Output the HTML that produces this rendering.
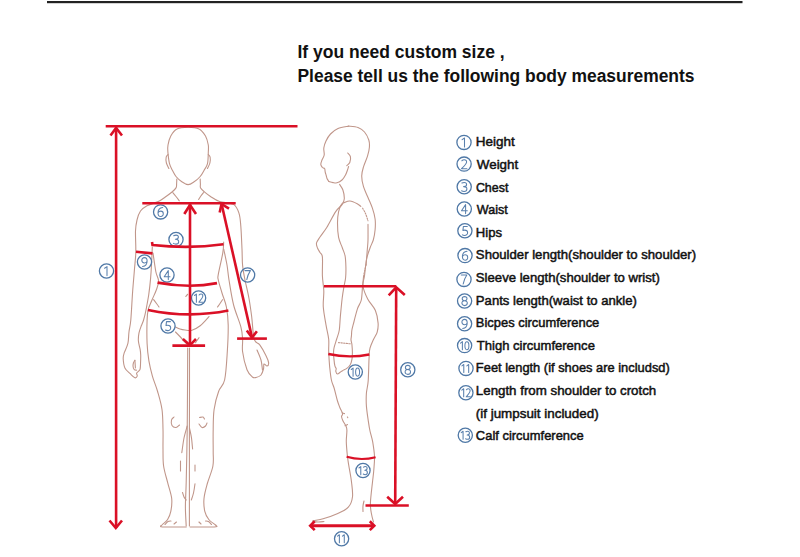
<!DOCTYPE html>
<html><head><meta charset="utf-8">
<style>
html,body{margin:0;padding:0;background:#fff;width:800px;height:557px;overflow:hidden}
svg{position:absolute;left:0;top:0}
.fig{fill:none;stroke:#c0968a;stroke-width:1.1;stroke-linecap:round;stroke-linejoin:round}
.red{fill:none;stroke:#da1026;stroke-width:2.6;stroke-linecap:butt;stroke-linejoin:miter}
.cir{fill:none;stroke:#4f78a6;stroke-width:1.3}
.num{font-family:"Liberation Sans",sans-serif;fill:#6f90b8;font-size:12.5px;text-anchor:middle}
.hd{font-family:"Liberation Sans",sans-serif;font-weight:bold;font-size:17.5px;fill:#111}
.li{font-family:"Liberation Sans",sans-serif;font-size:13.5px;fill:#111;stroke:#111;stroke-width:0.5}
.dig{fill:none;stroke:#5a80ad;stroke-width:1.05;stroke-linecap:round;stroke-linejoin:round;vector-effect:non-scaling-stroke}

</style></head><body>
<svg width="800" height="557" viewBox="0 0 800 557">
<rect x="47" y="1" width="695.5" height="2.2" fill="#222"/>
<text class="hd" x="297.5" y="58.1">If you need custom size ,</text>
<text class="hd" x="297.5" y="81.5" textLength="397" lengthAdjust="spacingAndGlyphs">Please tell us the following body measurements</text>
<text class="li" transform="translate(475.82,146.3) scale(0.9986,1)">Height</text>
<text class="li" transform="translate(476.80,168.9) scale(0.9930,1)">Weight</text>
<text class="li" transform="translate(475.90,191.5) scale(0.9200,1)">Chest</text>
<text class="li" transform="translate(476.80,214.1) scale(0.9290,1)">Waist</text>
<text class="li" transform="translate(475.85,236.7) scale(0.9711,1)">Hips</text>
<text class="li" transform="translate(475.85,259.3) scale(0.9754,1)">Shoulder length(shoulder to shoulder)</text>
<text class="li" transform="translate(475.85,281.9) scale(0.9741,1)">Sleeve length(shoulder to wrist)</text>
<text class="li" transform="translate(475.85,304.5) scale(0.9729,1)">Pants length(waist to ankle)</text>
<text class="li" transform="translate(475.86,327.1) scale(0.9570,1)">Bicpes circumference</text>
<text class="li" transform="translate(476.80,349.7) scale(0.9662,1)">Thigh circumference</text>
<text class="li" transform="translate(475.87,372.3) scale(0.9537,1)">Feet length (if shoes are includsd)</text>
<text class="li" transform="translate(475.84,394.9) scale(0.9863,1)">Length from shoulder to crotch</text>
<text class="li" transform="translate(475.83,417.5) scale(0.9928,1)">(if jumpsuit included)</text>
<text class="li" transform="translate(475.86,440.1) scale(0.9589,1)">Calf circumference</text>
<g class="fig">
<path d="M188.1,127.3 C191.8,127.3 196.1,127.5 199.0,129.0 C201.9,130.4 203.9,133.3 205.5,136.0 C207.1,138.7 207.8,142.3 208.3,145.0 C208.8,147.7 208.4,149.2 208.3,152.3 C208.2,155.4 208.2,160.6 207.5,163.6 C206.8,166.6 205.2,168.3 204.0,170.5 C202.8,172.7 201.8,174.7 200.2,176.5 C198.6,178.3 196.5,180.2 194.5,181.5 C192.5,182.8 190.3,184.6 188.1,184.6 C185.9,184.6 183.5,182.8 181.5,181.5 C179.5,180.2 177.5,178.3 176.0,176.5 C174.5,174.7 173.6,172.7 172.5,170.5 C171.4,168.3 170.3,166.6 169.5,163.6 C168.7,160.6 168.2,155.4 167.9,152.3 C167.7,149.2 167.5,147.7 168.0,145.0 C168.5,142.3 169.3,138.7 170.8,136.0 C172.3,133.3 174.1,130.4 177.0,129.0 C179.9,127.5 184.4,127.3 188.1,127.3Z"/>
<path d="M168.0,154.5 C167.7,154.9 166.5,155.6 166.2,157.0 C165.9,158.4 165.9,161.1 166.4,163.0 C166.9,164.9 168.5,167.6 168.9,168.5"/>
<path d="M208.3,154.5 C208.6,154.9 209.8,155.6 210.1,157.0 C210.4,158.4 210.3,161.1 209.9,163.0 C209.5,164.9 207.8,167.6 207.4,168.5"/>
<path d="M176.8,179.0 C176.8,179.8 176.7,182.5 176.6,184.0 C176.5,185.5 176.8,186.6 176.0,187.9 C175.2,189.2 173.7,190.6 172.0,192.0 C170.3,193.4 168.3,194.9 166.0,196.5 C163.7,198.1 161.4,200.0 158.2,201.6 C155.0,203.2 149.9,204.2 147.0,205.8 C144.1,207.4 142.2,208.6 140.5,211.0 C138.8,213.4 137.8,216.7 137.0,220.0 C136.2,223.3 135.7,225.6 135.5,231.0 C135.3,236.4 136.0,246.0 135.8,252.5 C135.6,259.0 134.9,263.4 134.4,270.0 C133.9,276.6 133.2,283.7 132.6,292.0 C132.0,300.3 131.4,313.4 130.8,320.0 C130.2,326.6 129.5,327.8 129.0,331.7 C128.5,335.6 128.7,339.9 127.9,343.4 C127.1,346.9 125.1,350.2 124.3,352.7 C123.5,355.2 123.1,356.1 123.2,358.6 C123.3,361.1 123.7,365.4 124.9,367.9 C126.1,370.4 128.5,372.0 130.2,373.7 C131.9,375.4 133.7,377.4 134.9,377.8 C136.1,378.2 136.9,376.9 137.2,376.1 C137.5,375.3 136.4,374.0 136.6,373.2 C136.8,372.4 137.8,372.1 138.4,371.4 C139.0,370.7 139.8,370.3 140.1,369.1 C140.4,367.9 140.4,366.8 140.5,364.4 C140.6,362.0 140.8,357.5 140.7,355.0 C140.6,352.5 140.5,351.5 140.1,349.2 C139.7,346.9 138.6,343.7 138.4,341.0 C138.2,338.3 138.5,335.4 139.0,332.9 C139.5,330.4 140.5,327.9 141.3,325.8 C142.1,323.7 142.8,322.6 143.6,320.0 C144.4,317.4 145.2,314.2 146.0,310.0 C146.8,305.8 147.9,300.1 148.7,295.0 C149.4,289.9 150.1,284.1 150.5,279.4 C150.9,274.7 151.1,272.2 151.4,266.8 C151.7,261.4 152.2,250.3 152.3,247.0"/>
<path d="M134.9,360.3 C134.7,360.8 133.7,361.9 133.4,363.0 C133.1,364.1 132.9,365.6 133.1,366.7 C133.2,367.8 133.7,369.0 134.3,369.6 C134.9,370.2 136.2,370.1 136.6,370.2"/>
<path d="M134.9,360.3 C135.0,361.6 135.3,366.6 135.4,367.9"/>
<path d="M200.2,179.0 C200.2,179.8 200.3,182.5 200.4,184.0 C200.5,185.5 199.9,186.7 200.6,188.0 C201.3,189.3 202.8,190.6 204.5,192.0 C206.2,193.4 208.0,194.9 210.5,196.5 C213.0,198.1 215.8,200.3 219.6,201.6 C223.4,202.9 230.4,202.4 233.6,204.4 C236.8,206.4 237.8,209.7 239.0,213.3 C240.2,216.9 240.3,220.1 240.8,226.0 C241.3,231.9 241.7,242.4 242.0,249.0 C242.3,255.6 242.1,260.2 242.6,265.4 C243.1,270.6 243.9,274.6 245.0,280.0 C246.1,285.4 247.8,292.0 248.9,298.0 C250.0,304.0 250.7,309.1 251.6,316.0 C252.5,322.9 252.9,334.4 254.2,339.2 C255.5,344.0 257.7,341.9 259.6,344.6 C261.6,347.3 264.4,352.4 265.9,355.4 C267.4,358.4 268.4,360.8 268.6,362.6 C268.8,364.4 267.8,365.8 267.0,366.0 C266.2,366.2 264.6,363.5 264.0,364.0 C263.4,364.5 264.0,367.2 263.5,369.0 C263.0,370.8 262.2,373.6 261.0,375.0 C259.8,376.4 257.4,377.2 256.0,377.5 C254.6,377.8 253.9,378.3 252.4,377.0 C250.9,375.7 248.6,374.0 247.0,369.8 C245.4,365.6 243.3,356.9 242.6,351.8 C241.9,346.7 242.9,343.2 242.6,339.0 C242.3,334.8 242.3,332.4 240.8,326.7 C239.3,321.0 235.6,312.8 233.6,305.0 C231.6,297.2 230.1,286.7 229.0,280.0 C227.9,273.3 227.9,270.2 227.0,265.0 C226.1,259.8 224.2,251.7 223.7,249.0"/>
<path d="M172.8,192.7 C173.3,193.3 174.9,195.2 176.0,196.5 C177.1,197.8 178.7,200.1 179.2,200.8"/>
<path d="M203.5,192.7 C203.0,193.3 201.3,195.4 200.5,196.5 C199.7,197.6 198.9,199.0 198.6,199.5"/>
<path d="M153.0,253.0 C153.5,256.2 155.0,267.3 155.9,272.0 C156.8,276.7 158.5,278.0 158.6,281.0 C158.7,284.0 157.4,286.8 156.3,290.0 C155.2,293.2 153.3,296.7 152.0,300.0 C150.7,303.3 149.0,306.3 148.2,309.6 C147.4,312.9 147.3,314.4 147.1,320.0 C146.9,325.6 146.8,336.6 147.1,343.4 C147.4,350.2 148.0,355.4 148.9,360.9 C149.8,366.3 151.0,371.0 152.4,376.1 C153.8,381.2 156.0,385.9 157.6,391.5 C159.2,397.1 161.1,403.2 162.0,409.5 C162.9,415.8 162.8,422.6 163.0,429.2 C163.2,435.8 162.9,442.9 163.0,449.0 C163.1,455.1 162.8,460.4 163.6,466.0 C164.4,471.6 166.2,476.9 167.6,482.3 C168.9,487.7 171.2,493.6 171.7,498.5 C172.2,503.4 171.5,507.9 170.8,511.4 C170.1,514.9 169.0,517.3 167.6,519.5 C166.2,521.7 163.6,523.3 162.5,524.5 C161.4,525.7 159.4,526.3 161.2,526.7 C162.9,527.1 168.8,527.0 173.0,527.0 C177.2,527.0 184.0,527.0 186.2,527.0"/>
<path d="M223.7,242.0 C223.5,243.8 223.7,247.4 222.8,252.8 C221.9,258.2 219.1,269.9 218.3,274.4 C217.6,278.9 217.7,276.9 218.3,280.0 C218.9,283.1 220.7,288.5 222.0,293.0 C223.3,297.5 225.4,301.7 226.4,307.0 C227.4,312.3 228.0,317.4 228.2,324.9 C228.3,332.4 227.9,342.6 227.3,351.8 C226.7,361.0 226.1,373.4 224.6,380.0 C223.1,386.6 220.3,386.6 218.6,391.5 C216.8,396.4 215.0,403.2 214.1,409.5 C213.2,415.8 213.3,422.3 213.2,429.2 C213.0,436.1 213.2,444.7 213.2,450.8 C213.1,456.9 213.9,460.5 212.9,466.0 C211.9,471.5 208.7,478.6 207.2,484.0 C205.7,489.4 204.4,493.9 204.0,498.5 C203.6,503.1 204.0,507.9 204.8,511.4 C205.6,514.9 207.0,517.2 208.8,519.5 C210.6,521.8 214.3,523.8 215.5,525.0 C216.7,526.2 218.1,526.4 216.0,526.7 C213.9,527.0 207.3,527.0 203.0,527.0 C198.7,527.0 192.3,527.0 190.2,527.0"/>
<path d="M187.7,348.0 C187.7,355.0 187.6,376.2 187.5,390.0 C187.4,403.8 187.4,415.6 187.2,431.0 C187.0,446.4 186.5,469.7 186.2,482.3 C185.9,494.9 185.4,499.2 185.4,506.5 C185.4,513.8 186.1,522.8 186.2,526.0"/>
<path d="M189.5,348.0 C189.5,355.0 189.5,376.2 189.5,390.0 C189.5,403.8 189.4,415.7 189.4,431.0 C189.4,446.3 189.4,469.5 189.4,482.0 C189.4,494.5 189.4,498.7 189.4,506.0 C189.4,513.3 189.4,522.7 189.4,526.0"/>
<path d="M187.2,426.0 C186.7,428.0 184.9,433.6 184.0,438.0 C183.1,442.4 182.2,450.2 181.8,452.6"/>
<path d="M189.5,428.0 C189.8,429.7 191.0,434.5 191.5,438.0 C192.0,441.5 192.4,447.2 192.6,449.0"/>
<path d="M174.0,417.0 C173.6,417.5 171.8,418.6 171.5,420.0 C171.2,421.4 171.2,424.2 172.0,425.5 C172.8,426.8 174.8,427.6 176.0,427.5 C177.2,427.4 178.9,425.4 179.5,425.0"/>
<path d="M199.5,417.5 C200.1,417.4 202.2,416.8 203.0,417.0 C203.8,417.2 204.2,418.7 204.5,419.0"/>
<path d="M199.0,424.0 C199.5,424.6 200.9,427.2 202.0,427.5 C203.1,427.8 204.7,426.8 205.5,426.0 C206.3,425.2 206.8,423.5 207.0,423.0"/>
<path d="M180.5,461.0 C180.5,462.7 180.5,469.3 180.5,471.0"/>
<path d="M195.0,465.0 C195.0,466.0 195.0,470.0 195.0,471.0"/>
<path d="M182.5,492.5 C182.8,493.2 183.4,495.8 184.0,497.0 C184.6,498.2 185.8,499.5 186.2,500.0"/>
<path d="M195.0,483.7 C194.8,485.2 194.1,490.3 193.5,493.0 C192.9,495.7 191.7,498.8 191.3,500.0"/>
<path d="M153.6,299.7 C154.1,300.3 155.6,302.3 156.5,303.5 C157.4,304.7 158.6,306.4 159.0,307.0"/>
<path d="M222.5,299.7 C222.1,300.3 220.8,302.3 220.0,303.5 C219.2,304.7 217.9,306.4 217.5,307.0"/>
<path d="M175.5,327.0 C176.2,327.3 178.4,328.5 180.0,329.0 C181.6,329.5 183.0,329.8 185.0,330.0 C187.0,330.2 189.5,330.9 192.0,330.2 C194.5,329.5 197.8,327.5 200.2,325.7 C202.6,323.9 205.0,320.9 206.5,319.4 C208.0,317.9 208.6,317.0 209.0,316.5"/>
<path d="M185.8,296.5 C186.1,296.1 187.3,294.7 187.6,294.3"/>
<path d="M175.5,332.0 C176.3,332.8 178.5,335.0 180.4,337.0 C182.3,339.0 185.6,342.8 186.7,344.0"/>
<path d="M199.0,337.7 C198.7,338.2 197.6,339.7 197.0,340.5 C196.4,341.3 195.8,342.3 195.5,342.7"/>
<path d="M165.0,524.5 C165.5,524.0 167.0,522.1 168.0,521.5 C169.0,520.9 170.5,521.1 171.0,521.0"/>
<path d="M174.0,524.0 C174.4,523.7 176.1,522.3 176.5,522.0"/>
<path d="M211.5,524.5 C211.0,524.0 209.5,522.1 208.5,521.5 C207.5,520.9 206.0,521.1 205.5,521.0"/>
<path d="M201.0,524.0 C200.7,523.7 199.3,522.3 199.0,522.0"/>
<path d="M257.0,350.0 C257.7,351.7 260.1,356.7 261.0,360.0 C261.9,363.3 262.2,368.3 262.5,370.0"/>
<path d="M348.6,126.1 C350.2,126.3 355.4,126.5 358.0,127.5 C360.6,128.5 362.7,129.9 364.5,132.0 C366.3,134.1 368.0,137.5 368.8,140.0 C369.6,142.5 369.6,144.5 369.4,147.2 C369.2,149.9 368.5,152.9 367.5,156.2 C366.5,159.5 364.5,163.6 363.5,166.9 C362.5,170.2 361.7,172.6 361.7,175.9 C361.7,179.2 362.4,183.1 363.5,186.7 C364.6,190.3 366.5,193.9 368.0,197.5 C369.5,201.1 371.2,204.6 372.4,208.2 C373.6,211.8 374.7,215.4 375.1,219.0 C375.6,222.6 375.4,226.3 375.1,229.8 C374.8,233.3 374.2,237.0 373.3,240.0 C372.4,243.0 371.1,244.8 370.0,248.0 C368.9,251.2 367.5,254.4 366.6,259.0 C365.7,263.6 365.1,271.1 364.5,275.6 C363.9,280.1 362.5,282.1 363.0,286.0 C363.5,289.9 365.6,294.9 367.7,299.0 C369.8,303.1 373.7,306.5 375.4,310.5 C377.1,314.5 377.8,319.5 378.1,323.1 C378.4,326.7 377.9,329.4 377.2,332.1 C376.4,334.8 374.8,336.5 373.6,339.2 C372.4,341.9 370.8,345.2 370.0,348.2 C369.2,351.2 369.4,351.8 369.1,357.2 C368.8,362.6 368.6,374.8 368.2,380.8 C367.8,386.8 366.7,389.1 366.4,393.3 C366.1,397.5 366.1,401.4 366.4,405.9 C366.7,410.4 367.6,416.1 368.2,420.3 C368.8,424.5 369.2,427.4 370.0,431.0 C370.8,434.6 371.9,437.6 372.7,441.8 C373.4,446.0 374.3,451.5 374.5,456.2 C374.7,460.9 374.1,465.7 373.8,470.0 C373.5,474.3 373.1,476.5 372.5,482.0 C371.9,487.5 370.6,497.8 370.4,503.0 C370.2,508.2 370.9,510.3 371.4,513.5 C371.9,516.7 373.1,520.6 373.5,522.0"/>
<path d="M348.6,126.1 C346.8,126.5 341.0,127.2 338.0,128.5 C335.0,129.8 332.5,131.9 330.5,134.0 C328.5,136.1 327.1,138.7 326.0,141.0 C324.9,143.3 324.1,145.7 323.8,148.0 C323.5,150.3 324.5,153.0 324.2,155.0 C323.9,157.0 322.6,158.4 322.0,160.0 C321.4,161.6 320.7,163.2 320.8,164.5 C320.9,165.8 321.9,166.8 322.5,167.5 C323.1,168.2 324.2,168.0 324.6,168.5 C325.0,169.0 324.9,169.8 325.0,170.5 C325.1,171.2 325.1,171.7 325.3,172.5 C325.5,173.3 325.9,174.5 326.2,175.5 C326.5,176.5 326.6,177.5 327.0,178.5 C327.4,179.5 328.6,181.0 328.9,181.5"/>
<path d="M328.9,181.5 C329.6,181.7 331.6,182.4 333.0,182.6 C334.4,182.8 335.5,183.2 337.0,182.8 C338.5,182.4 340.6,181.3 342.0,180.0 C343.4,178.7 344.6,176.7 345.5,175.0 C346.4,173.3 347.0,171.4 347.5,170.0 C348.0,168.6 348.4,167.1 348.6,166.5"/>
<path d="M347.7,153.0 C348.1,153.6 350.0,155.0 350.4,156.6 C350.8,158.2 350.4,161.0 349.8,162.5 C349.2,164.0 347.3,165.1 346.8,165.6"/>
<path d="M339.6,184.4 C340.2,185.3 342.1,187.6 342.9,190.0 C343.7,192.4 344.4,196.3 344.3,198.7 C344.2,201.1 343.6,202.2 342.2,204.4 C340.8,206.6 338.2,207.8 335.7,211.6 C333.1,215.4 329.5,223.1 326.9,227.3 C324.3,231.5 321.7,234.4 320.0,237.0 C318.3,239.6 316.9,241.2 316.5,243.0 C316.1,244.8 316.9,246.4 317.5,248.0 C318.1,249.6 319.2,251.0 320.0,252.5 C320.8,254.0 322.0,253.1 322.4,257.0 C322.8,260.9 322.2,270.2 322.4,275.8 C322.6,281.4 323.6,285.6 323.8,290.8 C324.0,296.0 322.9,301.3 323.3,307.0 C323.7,312.7 325.1,319.5 326.0,324.9 C326.9,330.3 328.2,334.7 328.7,339.2 C329.1,343.7 328.5,347.3 328.7,351.8 C328.9,356.3 329.2,361.5 329.6,366.2 C330.1,370.9 330.6,376.4 331.4,380.0 C332.1,383.6 333.1,384.7 334.1,388.0 C335.1,391.3 336.3,396.8 337.2,400.0 C338.1,403.2 338.8,404.9 339.7,407.2 C340.6,409.5 342.3,412.1 342.6,413.6 C342.9,415.2 341.4,415.3 341.5,416.5 C341.6,417.7 342.2,419.2 342.9,420.8 C343.6,422.4 345.1,424.2 345.8,425.8 C346.5,427.4 346.8,427.5 346.9,430.2 C347.0,432.9 346.2,437.7 346.3,441.8 C346.4,445.9 346.9,451.1 347.3,455.0 C347.7,458.9 348.0,460.5 348.7,465.0 C349.4,469.5 350.9,476.7 351.5,482.0 C352.1,487.3 353.0,492.5 352.5,496.7 C352.0,500.9 350.8,504.4 348.3,507.2 C345.9,510.0 342.0,511.6 337.8,513.5 C333.6,515.4 327.3,517.6 323.1,518.8 C318.9,520.0 313.5,520.4 312.6,520.9 C311.8,521.4 316.1,521.9 318.0,522.0 C319.9,522.1 323.0,521.6 324.0,521.5"/>
<path d="M360.8,206.4 C360.2,205.9 359.0,204.6 357.2,203.7 C355.4,202.8 352.1,201.2 350.0,201.0 C347.9,200.8 345.9,201.9 344.5,202.5 C343.1,203.1 342.5,202.9 341.5,204.4 C340.5,205.9 339.3,208.5 338.6,211.6 C337.9,214.7 337.5,218.7 337.5,223.0 C337.5,227.3 337.8,233.2 338.6,237.4 C339.4,241.6 341.3,244.9 342.4,248.0 C343.5,251.1 344.5,252.8 345.1,256.0 C345.7,259.1 345.8,263.3 345.9,266.9 C346.0,270.5 345.9,274.5 345.6,277.7 C345.3,280.9 344.6,282.9 344.0,286.3 C343.4,289.7 342.8,293.1 342.2,298.0 C341.6,302.9 340.9,310.6 340.4,315.9 C339.9,321.2 339.9,326.1 339.3,330.0 C338.7,333.9 337.6,336.0 336.7,339.0 C335.8,342.0 334.5,345.6 334.0,348.0 C333.5,350.4 333.5,351.4 333.5,353.3 C333.5,355.2 333.8,357.5 334.0,359.6 C334.2,361.7 334.5,364.4 334.9,365.9 C335.3,367.4 336.0,367.7 336.2,368.6 C336.4,369.5 335.6,370.4 335.8,371.3 C336.0,372.2 336.9,373.9 337.6,374.0 C338.3,374.1 339.3,372.8 340.2,372.2 C341.1,371.6 341.8,371.0 342.9,370.4 C343.9,369.8 345.3,369.5 346.5,368.6 C347.7,367.7 349.2,366.5 350.1,365.0 C351.0,363.5 351.5,361.7 351.9,359.6 C352.3,357.5 352.4,354.9 352.4,352.4 C352.4,349.8 352.1,346.4 351.9,344.3 C351.7,342.2 351.1,341.4 351.0,339.9 C350.9,338.4 351.4,337.0 351.5,335.4 C351.6,333.8 351.5,332.2 351.9,330.0 C352.3,327.8 353.0,325.6 353.9,322.0 C354.8,318.4 356.3,312.4 357.5,308.7 C358.7,305.0 360.5,303.6 361.3,300.0 C362.1,296.4 362.1,291.0 362.5,287.0 C362.9,283.0 363.4,277.8 363.6,276.0"/>
<path d="M368.0,224.4 C368.0,227.0 368.1,235.6 368.0,240.0 C367.9,244.4 367.5,246.7 367.2,250.8 C366.9,254.9 366.3,262.5 366.1,264.8"/>
<path d="M362.6,208.2 C363.1,209.1 364.6,211.4 365.5,213.5 C366.4,215.6 367.6,219.6 368.0,220.8" stroke-dasharray="1.4 1.3"/>
<path d="M366.1,264.8 C365.9,265.7 365.2,268.1 364.8,270.0 C364.4,271.9 363.8,275.0 363.6,276.0" stroke-dasharray="1.4 1.3"/>
<path d="M364.0,501.0 C363.8,501.8 363.2,504.3 363.0,506.0 C362.8,507.7 363.0,510.5 363.0,511.4"/>
<path d="M342.0,412.8 C342.4,412.9 344.1,413.5 344.5,413.6"/>
<path d="M345.0,425.8 C345.4,425.6 347.1,424.8 347.5,424.6"/>
<path d="M347.4,417.0 C347.5,417.1 347.7,417.5 347.8,417.6"/>
<path d="M338.5,342.6 L351,343.9" stroke-dasharray="1.4 1.2"/>
</g>
<circle class="cir" cx="106.50" cy="271.00" r="7.1"/><path class="dig" transform="translate(106.50,271.10)" d="M-1.9,-2.9 L0.5,-4.5 L0.5,4.5"/>
<circle class="cir" cx="176.00" cy="239.50" r="7.1"/><path class="dig" transform="translate(176.00,239.60)" d="M-2.3,-3.9 C-1.6,-4.3 -0.8,-4.5 0.1,-4.5 C1.6,-4.5 2.4,-3.6 2.4,-2.5 C2.4,-1.1 1.2,-0.3 -0.6,-0.3 L-0.3,-0.3 C1.7,-0.3 2.7,0.8 2.7,2.1 C2.7,3.6 1.5,4.5 -0.1,4.5 C-1.1,4.5 -2,4.2 -2.6,3.8"/>
<circle class="cir" cx="167.00" cy="275.00" r="7.1"/><path class="dig" transform="translate(167.00,275.10)" d="M1.3,4.5 L1.3,-4.5 L-2.8,1.7 L3,1.7"/>
<circle class="cir" cx="168.00" cy="326.00" r="7.1"/><path class="dig" transform="translate(168.00,326.10)" d="M2.4,-4.5 L-1.5,-4.5 L-2,-0.5 C-1.5,-0.7 -0.9,-0.8 -0.3,-0.8 C1.6,-0.8 2.7,0.4 2.7,1.8 C2.7,3.5 1.4,4.5 -0.3,4.5 C-1.2,4.5 -2,4.3 -2.5,3.9"/>
<circle class="cir" cx="160.60" cy="211.90" r="7.1"/><path class="dig" transform="translate(160.60,212.00)" d="M2.1,-4.5 C-0.6,-4.2 -2.6,-2.3 -2.6,0.9 C-2.6,3.1 -1.5,4.5 0.2,4.5 C1.8,4.5 2.7,3.2 2.7,1.7 C2.7,0.1 1.6,-0.9 0.2,-0.9 C-1,-0.9 -2,-0.2 -2.5,0.7"/>
<circle class="cir" cx="247.60" cy="275.00" r="7.1"/><path class="dig" transform="translate(247.60,275.10)" d="M-2.7,-4.5 L2.8,-4.5 C1,-1.8 -0.2,1.2 -0.8,4.5"/>
<circle class="cir" cx="407.80" cy="369.80" r="7.1"/><path class="dig" transform="translate(407.80,369.90)" d="M0,-0.4 C-1.5,-0.4 -2.4,-1.3 -2.4,-2.5 C-2.4,-3.7 -1.3,-4.5 0,-4.5 C1.3,-4.5 2.4,-3.7 2.4,-2.5 C2.4,-1.3 1.5,-0.4 0,-0.4 C-1.7,-0.4 -2.7,0.7 -2.7,2 C-2.7,3.5 -1.4,4.5 0,4.5 C1.4,4.5 2.7,3.5 2.7,2 C2.7,0.7 1.7,-0.4 0,-0.4Z"/>
<circle class="cir" cx="144.50" cy="262.00" r="7.1"/><path class="dig" transform="translate(144.50,262.10)" d="M2.5,-0.7 C2,0.2 1.1,0.8 -0.2,0.8 C-1.7,0.8 -2.7,-0.3 -2.7,-1.8 C-2.7,-3.4 -1.6,-4.5 0,-4.5 C1.7,-4.5 2.6,-3.2 2.6,-1 C2.6,2.4 0.8,4.3 -1.9,4.5"/>
<circle class="cir" cx="355.30" cy="372.00" r="7.1"/><path class="dig" transform="translate(352.70,372.10) scale(0.765,0.9)" d="M-1.9,-2.9 L0.5,-4.5 L0.5,4.5"/><path class="dig" transform="translate(357.60,372.10) scale(0.765,0.9)" d="M0,-4.5 C-1.8,-4.5 -2.6,-2.6 -2.6,0 C-2.6,2.6 -1.8,4.5 0,4.5 C1.8,4.5 2.6,2.6 2.6,0 C2.6,-2.6 1.8,-4.5 0,-4.5Z"/>
<circle class="cir" cx="341.60" cy="538.70" r="7.1"/><path class="dig" transform="translate(339.00,538.80) scale(0.765,0.9)" d="M-1.9,-2.9 L0.5,-4.5 L0.5,4.5"/><path class="dig" transform="translate(343.90,538.80) scale(0.765,0.9)" d="M-1.9,-2.9 L0.5,-4.5 L0.5,4.5"/>
<circle class="cir" cx="198.60" cy="298.00" r="7.1"/><path class="dig" transform="translate(196.00,298.10) scale(0.765,0.9)" d="M-1.9,-2.9 L0.5,-4.5 L0.5,4.5"/><path class="dig" transform="translate(200.90,298.10) scale(0.765,0.9)" d="M-2.3,-3.4 C-1.7,-4.1 -0.8,-4.5 0.2,-4.5 C1.7,-4.5 2.5,-3.5 2.5,-2.3 C2.5,-0.8 1.4,0.6 -2.6,4.5 L2.8,4.5"/>
<circle class="cir" cx="363.00" cy="470.50" r="7.1"/><path class="dig" transform="translate(360.40,470.60) scale(0.765,0.9)" d="M-1.9,-2.9 L0.5,-4.5 L0.5,4.5"/><path class="dig" transform="translate(365.30,470.60) scale(0.765,0.9)" d="M-2.3,-3.9 C-1.6,-4.3 -0.8,-4.5 0.1,-4.5 C1.6,-4.5 2.4,-3.6 2.4,-2.5 C2.4,-1.1 1.2,-0.3 -0.6,-0.3 L-0.3,-0.3 C1.7,-0.3 2.7,0.8 2.7,2.1 C2.7,3.6 1.5,4.5 -0.1,4.5 C-1.1,4.5 -2,4.2 -2.6,3.8"/>
<circle class="cir" cx="464.00" cy="142.40" r="7.1"/><path class="dig" transform="translate(464.00,142.50)" d="M-1.9,-2.9 L0.5,-4.5 L0.5,4.5"/>
<circle class="cir" cx="464.10" cy="164.10" r="7.1"/><path class="dig" transform="translate(464.10,164.20)" d="M-2.3,-3.4 C-1.7,-4.1 -0.8,-4.5 0.2,-4.5 C1.7,-4.5 2.5,-3.5 2.5,-2.3 C2.5,-0.8 1.4,0.6 -2.6,4.5 L2.8,4.5"/>
<circle class="cir" cx="464.20" cy="186.80" r="7.1"/><path class="dig" transform="translate(464.20,186.90)" d="M-2.3,-3.9 C-1.6,-4.3 -0.8,-4.5 0.1,-4.5 C1.6,-4.5 2.4,-3.6 2.4,-2.5 C2.4,-1.1 1.2,-0.3 -0.6,-0.3 L-0.3,-0.3 C1.7,-0.3 2.7,0.8 2.7,2.1 C2.7,3.6 1.5,4.5 -0.1,4.5 C-1.1,4.5 -2,4.2 -2.6,3.8"/>
<circle class="cir" cx="464.30" cy="209.00" r="7.1"/><path class="dig" transform="translate(464.30,209.10)" d="M1.3,4.5 L1.3,-4.5 L-2.8,1.7 L3,1.7"/>
<circle class="cir" cx="464.90" cy="230.80" r="7.1"/><path class="dig" transform="translate(464.90,230.90)" d="M2.4,-4.5 L-1.5,-4.5 L-2,-0.5 C-1.5,-0.7 -0.9,-0.8 -0.3,-0.8 C1.6,-0.8 2.7,0.4 2.7,1.8 C2.7,3.5 1.4,4.5 -0.3,4.5 C-1.2,4.5 -2,4.3 -2.5,3.9"/>
<circle class="cir" cx="465.00" cy="255.60" r="7.1"/><path class="dig" transform="translate(465.00,255.70)" d="M2.1,-4.5 C-0.6,-4.2 -2.6,-2.3 -2.6,0.9 C-2.6,3.1 -1.5,4.5 0.2,4.5 C1.8,4.5 2.7,3.2 2.7,1.7 C2.7,0.1 1.6,-0.9 0.2,-0.9 C-1,-0.9 -2,-0.2 -2.5,0.7"/>
<circle class="cir" cx="464.00" cy="279.40" r="7.1"/><path class="dig" transform="translate(464.00,279.50)" d="M-2.7,-4.5 L2.8,-4.5 C1,-1.8 -0.2,1.2 -0.8,4.5"/>
<circle class="cir" cx="464.60" cy="301.00" r="7.1"/><path class="dig" transform="translate(464.60,301.10)" d="M0,-0.4 C-1.5,-0.4 -2.4,-1.3 -2.4,-2.5 C-2.4,-3.7 -1.3,-4.5 0,-4.5 C1.3,-4.5 2.4,-3.7 2.4,-2.5 C2.4,-1.3 1.5,-0.4 0,-0.4 C-1.7,-0.4 -2.7,0.7 -2.7,2 C-2.7,3.5 -1.4,4.5 0,4.5 C1.4,4.5 2.7,3.5 2.7,2 C2.7,0.7 1.7,-0.4 0,-0.4Z"/>
<circle class="cir" cx="464.60" cy="323.80" r="7.1"/><path class="dig" transform="translate(464.60,323.90)" d="M2.5,-0.7 C2,0.2 1.1,0.8 -0.2,0.8 C-1.7,0.8 -2.7,-0.3 -2.7,-1.8 C-2.7,-3.4 -1.6,-4.5 0,-4.5 C1.7,-4.5 2.6,-3.2 2.6,-1 C2.6,2.4 0.8,4.3 -1.9,4.5"/>
<circle class="cir" cx="464.60" cy="345.60" r="7.1"/><path class="dig" transform="translate(462.00,345.70) scale(0.765,0.9)" d="M-1.9,-2.9 L0.5,-4.5 L0.5,4.5"/><path class="dig" transform="translate(466.90,345.70) scale(0.765,0.9)" d="M0,-4.5 C-1.8,-4.5 -2.6,-2.6 -2.6,0 C-2.6,2.6 -1.8,4.5 0,4.5 C1.8,4.5 2.6,2.6 2.6,0 C2.6,-2.6 1.8,-4.5 0,-4.5Z"/>
<circle class="cir" cx="466.00" cy="368.40" r="7.1"/><path class="dig" transform="translate(463.40,368.50) scale(0.765,0.9)" d="M-1.9,-2.9 L0.5,-4.5 L0.5,4.5"/><path class="dig" transform="translate(468.30,368.50) scale(0.765,0.9)" d="M-1.9,-2.9 L0.5,-4.5 L0.5,4.5"/>
<circle class="cir" cx="465.90" cy="392.70" r="7.1"/><path class="dig" transform="translate(463.30,392.80) scale(0.765,0.9)" d="M-1.9,-2.9 L0.5,-4.5 L0.5,4.5"/><path class="dig" transform="translate(468.20,392.80) scale(0.765,0.9)" d="M-2.3,-3.4 C-1.7,-4.1 -0.8,-4.5 0.2,-4.5 C1.7,-4.5 2.5,-3.5 2.5,-2.3 C2.5,-0.8 1.4,0.6 -2.6,4.5 L2.8,4.5"/>
<circle class="cir" cx="465.30" cy="435.20" r="7.1"/><path class="dig" transform="translate(462.70,435.30) scale(0.765,0.9)" d="M-1.9,-2.9 L0.5,-4.5 L0.5,4.5"/><path class="dig" transform="translate(467.60,435.30) scale(0.765,0.9)" d="M-2.3,-3.9 C-1.6,-4.3 -0.8,-4.5 0.1,-4.5 C1.6,-4.5 2.4,-3.6 2.4,-2.5 C2.4,-1.1 1.2,-0.3 -0.6,-0.3 L-0.3,-0.3 C1.7,-0.3 2.7,0.8 2.7,2.1 C2.7,3.6 1.5,4.5 -0.1,4.5 C-1.1,4.5 -2,4.2 -2.6,3.8"/>
<!-- RED LINES -->
<g class="red">
<!-- height -->
<path d="M105.7,126.3 L297.5,126.3"/>
<path d="M116.1,127.5 L116.1,528"/>
<path d="M110.5,135.5 L116.1,128 L122,135.5"/>
<path d="M109.5,520.5 L115.8,528 L122,520.5"/>
<!-- shoulder -->
<path d="M142.3,203.2 L235.7,203.2"/>
<!-- center 12 -->
<path d="M190,204 L190,345"/>
<path d="M184.3,214 L190,205 L196,214"/>
<path d="M182.9,339 L189.9,345.3 L196,339"/>
<path d="M172.4,345.6 L205.1,345.6"/>
<!-- sleeve 7 -->
<path d="M221.7,204.5 L252,337.4"/>
<path d="M219.7,212.5 L221.5,204 L229,208.7"/>
<path d="M246.8,330.4 L252,337.6 L256.9,331.3"/>
<path d="M237.1,338.6 L266.9,338.6"/>
<!-- chest -->
<path d="M152,242 L152.5,245 Q189,249 223.5,244.3"/>
<!-- bicep -->
<path d="M136,251.8 L152.5,253.4"/>
<!-- waist -->
<path d="M157.5,282.6 Q189,288.5 217,283.1"/>
<!-- hips -->
<path d="M147.9,309.9 Q189,318.5 228.4,310.6"/>
<!-- side waist -->
<path d="M324,286.2 L396.2,286.2"/>
<path d="M396.2,287 L395.2,504"/>
<path d="M388.7,295.4 L396.2,287.3 L404.8,295"/>
<path d="M387.2,496.7 L395.2,504 L403,496.7"/>
<path d="M365.5,505.5 L408.8,505.5"/>
<!-- thigh -->
<path d="M328.3,354 Q348.8,358.5 369.3,354.5" style="stroke-width:2.4"/>
<!-- calf -->
<path d="M346.6,456.8 Q361,461 375.6,457.2" style="stroke-width:2.2"/>
<!-- feet -->
<path d="M310,525.7 L374,525.7" style="stroke-width:3"/>
<path d="M314.7,521.3 L310.2,525.7 L314.7,530.2"/>
<path d="M369.8,521.3 L374.3,525.7 L369.8,530.2"/>
</g>

</svg>
</body></html>
